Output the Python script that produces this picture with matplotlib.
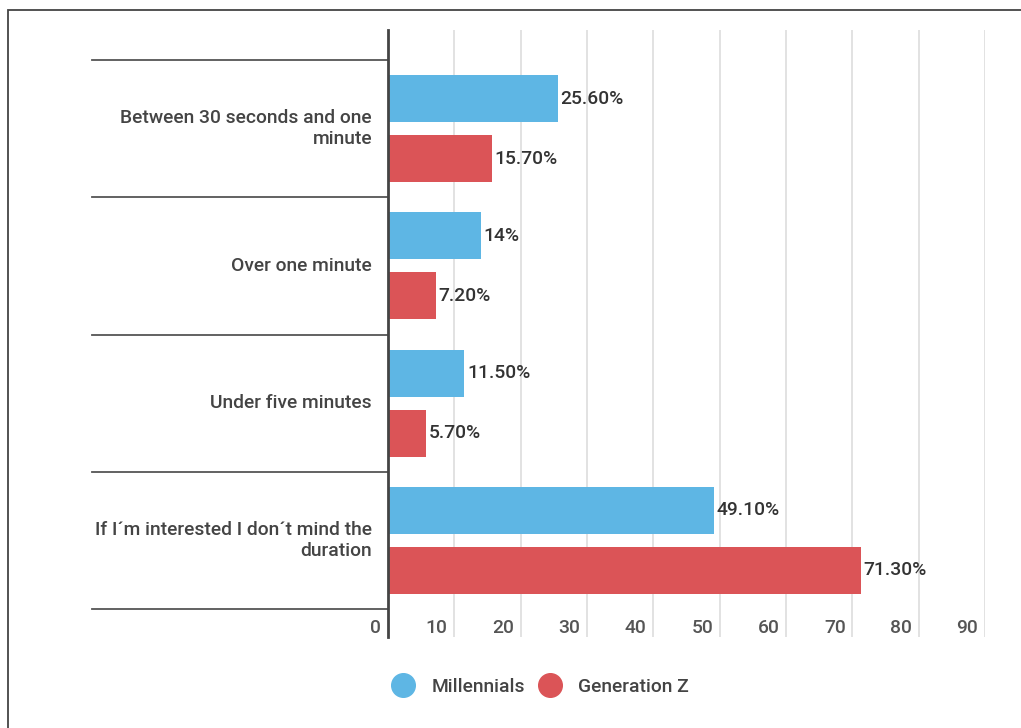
import matplotlib
matplotlib.use("Agg")
import matplotlib.pyplot as plt
from matplotlib.lines import Line2D
from matplotlib.patches import Rectangle

plt.rcParams['font.family'] = ['Roboto', 'DejaVu Sans']
plt.rcParams['font.weight'] = 'medium'

categories = ['Between 30 seconds and one\nminute',
              'Over one minute',
              'Under five minutes',
              'If I´m interested I don´t mind the\nduration']
millennials = [25.6, 14.0, 11.5, 49.1]
gen_z = [15.7, 7.2, 5.7, 71.3]
series_names = ['Millennials', 'Generation Z']
ticks = [0, 10, 20, 30, 40, 50, 60, 70, 80, 90]

blue = '#5eb6e4'
red = '#db5457'
W, H = 1021, 728
fs = 13.9


def fmt(v):
    return f'{int(v)}%' if v == int(v) else f'{v:.2f}%'


fig = plt.figure(figsize=(W / 100, H / 100), dpi=100)
# axes box in pixels: x 388..985, y 30..637
ax = fig.add_axes([388 / W, 1 - 637 / H, (985 - 388) / W, (637 - 30) / H])

ylo, yhi = -30 / 137.25, 4 + 28 / 137.25
ax.set_xlim(0, 90)
ax.set_ylim(yhi, ylo)

off = 0.219
bh = 0.342
for i, (m, g) in enumerate(zip(millennials, gen_z)):
    c = i + 0.5
    ax.barh(c - off, m, height=bh, color=blue, zorder=3)
    ax.barh(c + off, g, height=bh, color=red, zorder=3)
    ax.text(m + 0.4, c - off, fmt(m), va='center', ha='left', fontsize=fs, color='#333333', zorder=4)
    ax.text(g + 0.4, c + off, fmt(g), va='center', ha='left', fontsize=fs, color='#333333', zorder=4)
    ax.text(-2.4, c, categories[i], va='center', ha='right', fontsize=fs,
            color='#444444', linespacing=1.2)

# vertical gridlines and tick labels
for t in ticks[1:]:
    ax.axvline(t, color='#dddddd', lw=1.2, zorder=1)
for t in ticks:
    ax.text(t - 1.0, 4.138, str(t), ha='right', va='center', fontsize=fs, color='#555555')

# category separators extending left of the axis
for k in range(len(categories) + 1):
    ax.plot([-44.6, 0], [k, k], color='#555555', lw=1.3, clip_on=False, zorder=2)

for s in ['top', 'right', 'bottom']:
    ax.spines[s].set_visible(False)
ax.spines['left'].set_color('#444444')
ax.spines['left'].set_linewidth(2)
ax.spines['left'].set_zorder(5)
ax.set_xticks([])
ax.set_yticks([])

handles = [Line2D([], [], marker='o', ls='', markersize=17, color=blue),
           Line2D([], [], marker='o', ls='', markersize=17, color=red)]
fig.legend(handles, series_names, loc='center', bbox_to_anchor=(536.5 / W, 1 - 687 / H),
           ncol=2, frameon=False, fontsize=fs, handletextpad=0.45, columnspacing=0.33,
           labelcolor='#444444')

# outer border
fig.add_artist(Rectangle((8 / W, -0.01), 1.1, 1 - 10 / H + 0.01, transform=fig.transFigure,
                         fill=False, ec='#444444', lw=1.3))

fig.savefig('out.png', dpi=100)
